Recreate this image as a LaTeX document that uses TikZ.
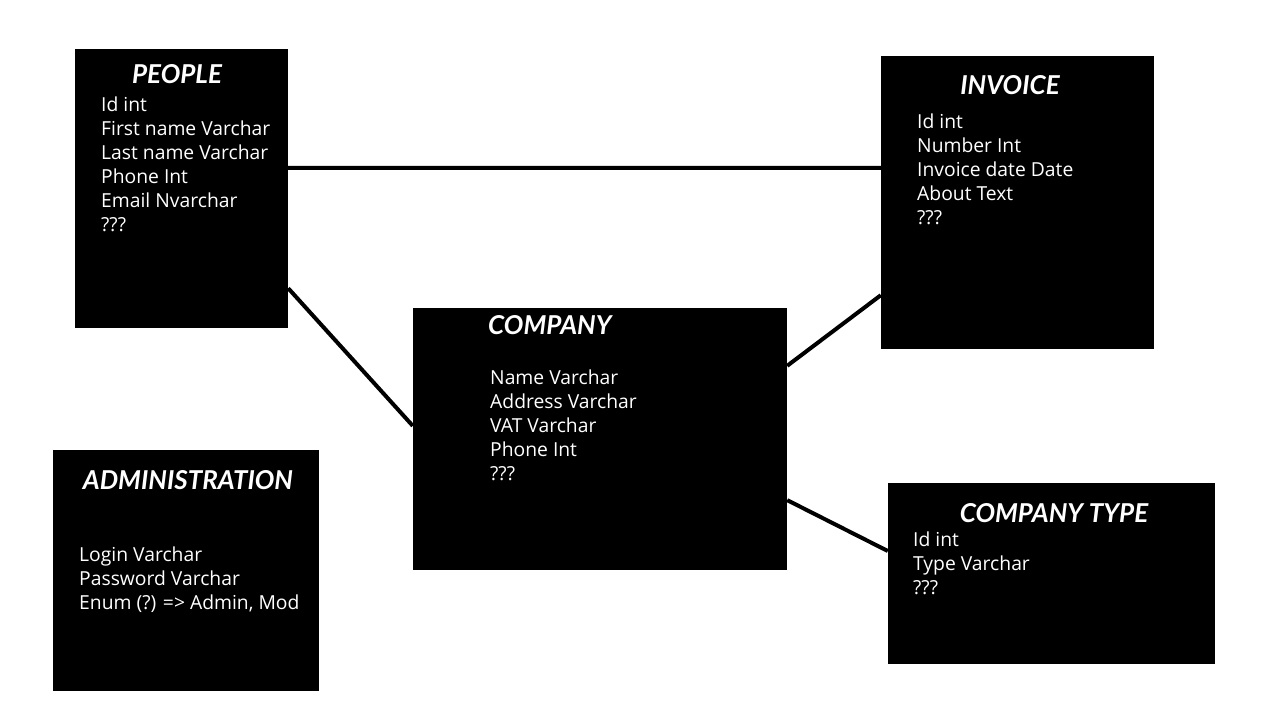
\documentclass[tikz,border=0pt]{standalone}
\usepackage{fontspec}
\setmainfont{Open Sans}
\newfontfamily\titlefont{Lato}
\usetikzlibrary{calc}
\tikzset{
  entity/.style={fill=black, draw=none, inner sep=0pt},
  etitle/.style={text=white, inner sep=0pt, font=\titlefont\bfseries\itshape\fontsize{26}{28}\selectfont},
  ebody/.style={text=white, inner sep=0pt, anchor=north west, align=left, font=\fontsize{19.3}{24}\selectfont},
  link/.style={draw=black, line width=4pt}
}
\begin{document}
\begin{tikzpicture}[x=1pt,y=-1pt]
\useasboundingbox[fill=white] (0,0) rectangle (1280,720);
% boxes
\node[entity, minimum width=213pt, minimum height=279pt] (people) at (181.5,188.5) {};
\node[entity, minimum width=273pt, minimum height=293pt] (invoice) at (1017.5,202.5) {};
\node[entity, minimum width=374pt, minimum height=262pt] (company) at (600,439) {};
\node[entity, minimum width=266pt, minimum height=241pt] (admin) at (186,570.5) {};
\node[entity, minimum width=327pt, minimum height=181pt] (ctype) at (1051.5,573.5) {};
% titles
\node[etitle] (peopleT) at (177,74) {PEOPLE};
\node[etitle] (invoiceT) at (1010,85) {INVOICE};
\node[etitle, anchor=west] (companyT) at (488,325) {COMPANY};
\node[etitle] (adminT) at (188,480) {ADMINISTRATION};
\node[etitle] (ctypeT) at (1054,513) {COMPANY TYPE};
% bodies
\node[ebody] (peopleB) at (101,96.5) {Id int\\First name Varchar\\Last name Varchar\\Phone Int\\Email Nvarchar\\???};
\node[ebody] (invoiceB) at (917,113.5) {Id int\\Number Int\\Invoice date Date\\About Text\\???};
\node[ebody] (companyB) at (490,369.5) {Name Varchar\\Address Varchar\\VAT Varchar\\Phone Int\\???};
\node[ebody] (adminB) at (79,546.5) {Login Varchar\\Password Varchar\\Enum (?) => Admin, Mod};
\node[ebody] (ctypeB) at (913,531.5) {Id int\\Type Varchar\\???};
% connectors
\draw[link] ($(people.north east)!0.4265!(people.south east)$) -- ($(invoice.north west)!0.382!(invoice.south west)$);
\draw[link] ($(people.north east)!0.857!(people.south east)$) -- ($(company.north west)!0.450!(company.south west)$);
\draw[link] ($(company.north east)!0.221!(company.south east)$) -- ($(invoice.north west)!0.816!(invoice.south west)$);
\draw[link] ($(company.north east)!0.733!(company.south east)$) -- ($(ctype.north west)!0.376!(ctype.south west)$);
\end{tikzpicture}
\end{document}
